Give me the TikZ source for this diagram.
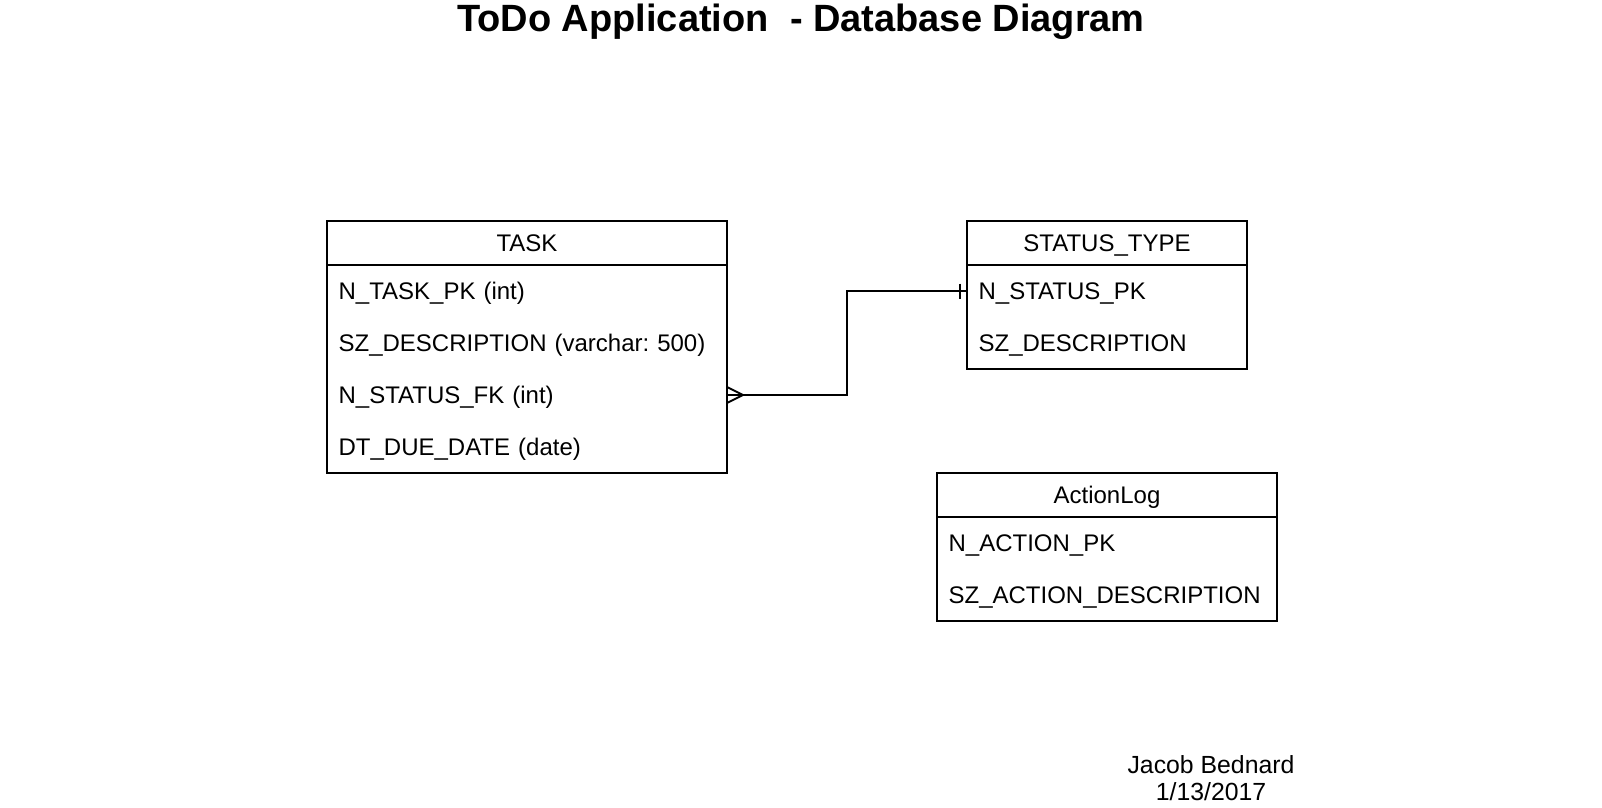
\documentclass[tikz,border=0pt]{standalone}
\usepackage{fontspec}
\setmainfont{Liberation Sans}
\usetikzlibrary{positioning,calc}
\frenchspacing

\begin{document}
\begin{tikzpicture}[
  x=0.5pt, y=-0.5pt,
  every node/.style={font=\fontsize{12}{14}\selectfont, inner sep=0pt, outer sep=0pt},
  tblhead/.style={draw, line width=1pt, minimum height=22pt, text height=8.6pt, text depth=0pt},
  field/.style={minimum height=26pt, inner xsep=5.8pt, align=left, text height=8.6pt, text depth=0pt},
  link/.style={line width=1pt}
]
  \useasboundingbox[fill=white] (0,0) rectangle (1602,808);

  % title and author
  \node[font=\fontsize{19}{22}\selectfont\bfseries] (title) at (801,22)
    {ToDo Application~ - Database Diagram};
  \node[align=center, font=\fontsize{12.4}{13.6}\selectfont] (author) at (1211,778)
    {Jacob Bednard\\1/13/2017};

  % TASK
  \node[tblhead, minimum width=200pt] (task) at (527,243) {TASK};
  \foreach \f [count=\i] in {N\_TASK\_PK (int), SZ\_DESCRIPTION (varchar: 500),
      N\_STATUS\_FK (int), DT\_DUE\_DATE (date)}
    \node[field, text width=188.4pt] (taskf\i) at ($(task.south)+(0,{26+52*(\i-1)})$) {\f};
  \draw[line width=1pt] (task.south west) rectangle (taskf4.south east);

  % STATUS_TYPE
  \node[tblhead, minimum width=140pt] (status) at (1107,243) {STATUS\_TYPE};
  \foreach \f [count=\i] in {N\_STATUS\_PK, SZ\_DESCRIPTION}
    \node[field, text width=128.4pt] (statusf\i) at ($(status.south)+(0,{26+52*(\i-1)})$) {\f};
  \draw[line width=1pt] (status.south west) rectangle (statusf2.south east);

  % ActionLog
  \node[tblhead, minimum width=170pt] (actionlog) at (1107,495) {ActionLog};
  \foreach \f [count=\i] in {N\_ACTION\_PK, SZ\_ACTION\_DESCRIPTION}
    \node[field, text width=158.4pt] (actionf\i) at ($(actionlog.south)+(0,{26+52*(\i-1)})$) {\f};
  \draw[line width=1pt] (actionlog.south west) rectangle (actionf2.south east);

  % many TASK -- one STATUS_TYPE
  \draw[link] (taskf3.east) -- ++(120,0) |- (statusf1.west);
  \draw[link] ($(taskf3.east)+(0,-8)$) -- ($(taskf3.east)+(16,0)$) -- ($(taskf3.east)+(0,8)$);
  \draw[link] ($(statusf1.west)+(-7.4,-7.5)$) -- ($(statusf1.west)+(-7.4,7.5)$);
\end{tikzpicture}
\end{document}
